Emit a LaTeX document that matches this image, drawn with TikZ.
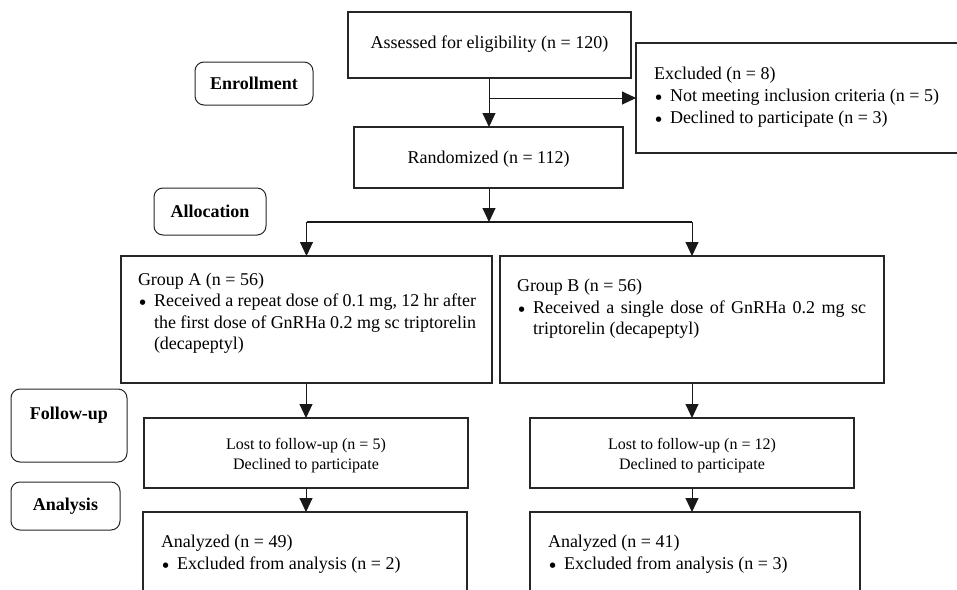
\documentclass[tikz,border=0pt]{standalone}
\usepackage{fontspec}
\setmainfont{Liberation Serif}
\newfontfamily\bulfont{DejaVu Sans}
\usetikzlibrary{arrows.meta}
\newcommand{\mybul}{\makebox[16pt][l]{\hspace{1.5pt}\raisebox{2pt}{\bulfont\fontsize{7}{7}\selectfont ●}}}
\begin{document}
\begin{tikzpicture}[x=1pt,y=-1pt,
  box/.style={draw=black!85, line width=1.3pt, inner sep=0pt, outer sep=0pt},
  lbl/.style={draw=black!85, line width=1pt, rounded corners=9pt, inner sep=0pt, outer sep=0pt, font=\fontsize{18}{21}\selectfont\bfseries},
  txt/.style={inner sep=0pt, outer sep=0pt, font=\fontsize{18}{21}\selectfont},
  stxt/.style={inner sep=0pt, outer sep=0pt, font=\fontsize{16}{19}\selectfont},
  arr/.style={draw=black!90, line width=1pt, -{Triangle[width=13pt,length=14pt]}},
  thick line/.style={draw=black!90, line width=2.2pt}]
\clip (0,0) rectangle (957,589);
\fill[white] (0,0) rectangle (957,589);
% boxes
\node[box, minimum width=283pt, minimum height=66pt] (assess) at (489.5,45) {};
\node[box, minimum width=344pt, minimum height=110pt] (excl) at (808,98) {};
\node[box, minimum width=269pt, minimum height=61pt] (rand) at (488.5,157.5) {};
\node[box, minimum width=371pt, minimum height=127pt] (ga) at (306.5,319.5) {};
\node[box, minimum width=384pt, minimum height=127pt] (gb) at (692,319.5) {};
\node[box, minimum width=324pt, minimum height=70pt] (la) at (306,453) {};
\node[box, minimum width=324pt, minimum height=70pt] (lb) at (692,453) {};
\node[box, minimum width=324pt, minimum height=100pt] (aa) at (305,562) {};
\node[box, minimum width=330pt, minimum height=100pt] (ab) at (695,562) {};
% stage labels
\node[lbl, minimum width=118pt, minimum height=43pt] (enr) at (254,83.5) {Enrollment};
\node[lbl, minimum width=112pt, minimum height=47pt] (alloc) at (210,211.5) {Allocation};
\node[lbl, minimum width=116pt, minimum height=73pt] (fu) at (69,425.5) {};
\node[txt, font=\fontsize{18}{21}\selectfont\bfseries, anchor=base] (tfu) at (69,419) {Follow-up};
\node[lbl, minimum width=109pt, minimum height=48pt] (anl) at (65.5,506) {Analysis};
% texts
\node[txt, anchor=base] (tassess) at (489.5,48) {Assessed for eligibility (n = 120)};
\node[txt, anchor=base] (trand) at (488.5,163) {Randomized (n = 112)};
\node[txt, anchor=base west] (te1) at (654,79) {Excluded (n = 8)};
\node[txt, anchor=base west] (te2) at (654,101) {\mybul Not meeting inclusion criteria (n = 5)};
\node[txt, anchor=base west] (te3) at (654,123) {\mybul Declined to participate (n = 3)};
\node[txt, anchor=base west] (tga1) at (138,285) {Group A (n = 56)};
\node[txt, anchor=base west] (tga2) at (138,306.5) {\mybul\makebox[322pt][s]{Received a repeat dose of 0.1 mg, 12 hr after}};
\node[txt, anchor=base west] (tga3) at (154,328) {\makebox[322pt][s]{the first dose of GnRHa 0.2 mg sc triptorelin}};
\node[txt, anchor=base west] (tga4) at (154,349.5) {(decapeptyl)};
\node[txt, anchor=base west] (tgb1) at (517,291) {Group B (n = 56)};
\node[txt, anchor=base west] (tgb2) at (517,313) {\mybul\makebox[333pt][s]{Received a single dose of GnRHa 0.2 mg sc}};
\node[txt, anchor=base west] (tgb3) at (533,334.5) {triptorelin (decapeptyl)};
\node[stxt, anchor=base] (tla1) at (306,449) {Lost to follow-up (n = 5)};
\node[stxt, anchor=base] (tla2) at (306,469.5) {Declined to participate};
\node[stxt, anchor=base] (tlb1) at (692,449) {Lost to follow-up (n = 12)};
\node[stxt, anchor=base] (tlb2) at (692,469.5) {Declined to participate};
\node[txt, anchor=base west] (taa1) at (161,547) {Analyzed (n = 49)};
\node[txt, anchor=base west] (taa2) at (161,569) {\mybul Excluded from analysis (n = 2)};
\node[txt, anchor=base west] (tab1) at (548,547) {Analyzed (n = 41)};
\node[txt, anchor=base west] (tab2) at (548,569) {\mybul Excluded from analysis (n = 3)};
% connectors
\coordinate (br) at (489,98);
\coordinate (junc) at (489,222);
\draw[arr] (br |- assess.south) -- (br |- rand.north);
\draw[arr] (br) -- (br -| excl.west);
\draw[arr] (rand.south -| junc) -- (junc);
\draw[thick line] (junc -| ga.north) -- (junc -| gb.north);
\draw[arr] (junc -| ga.north) -- (ga.north);
\draw[arr] (junc -| gb.north) -- (gb.north);
\draw[arr] (la.north |- ga.south) -- (la.north);
\draw[arr] (lb.north |- gb.south) -- (lb.north);
\draw[arr] (la.south) -- (la.south |- aa.north);
\draw[arr] (lb.south) -- (lb.south |- ab.north);
\end{tikzpicture}
\end{document}
